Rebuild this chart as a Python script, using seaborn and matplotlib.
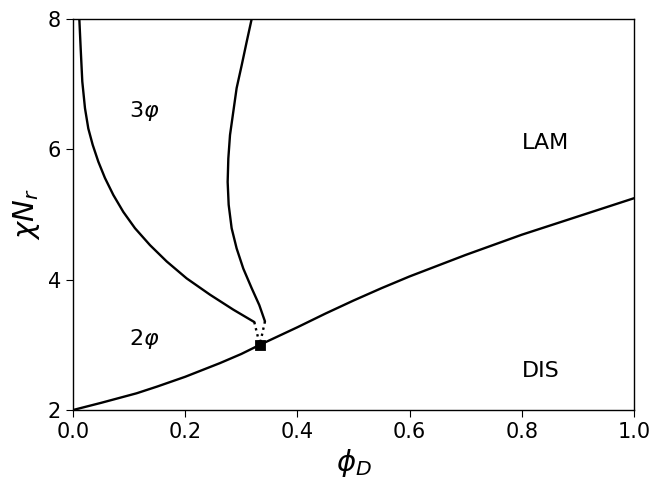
import matplotlib
matplotlib.use("Agg")
import matplotlib.pyplot as plt
import seaborn as sns
import pandas as pd

# order-disorder boundary
odt_phi = [0.0, 0.05, 0.1135, 0.15, 0.2, 0.262, 0.3, 0.333, 0.4, 0.45, 0.5, 0.55,
           0.6, 0.7, 0.8, 0.9, 1.0]
odt_chi = [2.0, 2.11, 2.257, 2.36, 2.51, 2.72, 2.86, 3.0, 3.27, 3.48, 3.68, 3.87,
           4.05, 4.38, 4.69, 4.97, 5.25]

# left branch of the 3-phase region
left_phi = [0.0113, 0.0137, 0.0166, 0.0214, 0.0273, 0.0351, 0.0452, 0.0570, 0.0719,
            0.0897, 0.1105, 0.1373, 0.1670, 0.2026, 0.2442, 0.2858, 0.3232]
left_chi = [8.0, 7.55, 7.04, 6.63, 6.32, 6.07, 5.81, 5.56, 5.30,
            5.04, 4.79, 4.53, 4.28, 4.02, 3.77, 3.54, 3.35]

# right branch of the 3-phase region
right_phi = [0.3185, 0.3096, 0.3007, 0.2917, 0.2858, 0.2799, 0.2769, 0.2757, 0.2775,
             0.2828, 0.2917, 0.3036, 0.3185, 0.3321, 0.3422]
right_chi = [8.0, 7.65, 7.29, 6.94, 6.58, 6.22, 5.86, 5.50, 5.15,
             4.79, 4.48, 4.17, 3.87, 3.61, 3.36]

# dotted connections to the critical point
crit_phi, crit_chi = 0.333, 3.0
dot_left = ([0.3232, crit_phi], [3.35, crit_chi])
dot_right = ([0.3422, crit_phi], [3.36, crit_chi])

labels = [(0.1, 6.5, r"$3\varphi$"), (0.1, 3.0, r"$2\varphi$"),
          (0.8, 6.0, "LAM"), (0.8, 2.5, "DIS")]

if __name__ == "__main__":
    sns.set_style("ticks")
    fig = plt.figure(figsize=(6.54, 4.79), dpi=100)
    ax = fig.add_subplot(111)
    fig.subplots_adjust(left=0.1116, right=0.9694, top=0.9603, bottom=0.144)

    lw = 1.7
    for xs, ys in [(odt_phi, odt_chi), (left_phi, left_chi), (right_phi, right_chi)]:
        df = pd.DataFrame({"phi": xs, "chi": ys})
        sns.lineplot(data=df, x="phi", y="chi", sort=False, estimator=None,
                     color="black", linewidth=lw, ax=ax)
    for xs, ys in [dot_left, dot_right]:
        sns.lineplot(x=xs, y=ys, sort=False, estimator=None, color="black",
                     linewidth=lw, linestyle=":", ax=ax)
    sns.scatterplot(x=[crit_phi], y=[crit_chi], marker="s", color="black",
                    s=55, edgecolor="black", ax=ax, zorder=5)

    for x, y, t in labels:
        ax.text(x, y, t, fontsize=16, color="black")

    ax.set_xlim(0, 1)
    ax.set_ylim(2, 8)
    ax.set_xticks([0.0, 0.2, 0.4, 0.6, 0.8, 1.0])
    ax.set_yticks([2, 4, 6, 8])
    ax.set_xlabel(r"$\phi_D$", fontsize=21, color="black")
    ax.set_ylabel(r"$\chi N_r$", fontsize=21, color="black")
    ax.tick_params(axis="both", labelsize=15, direction="out", length=5,
                   color="black", labelcolor="black")
    for sp in ax.spines.values():
        sp.set_color("black")
        sp.set_linewidth(1.0)
    plt.savefig("out.png", dpi=100)
